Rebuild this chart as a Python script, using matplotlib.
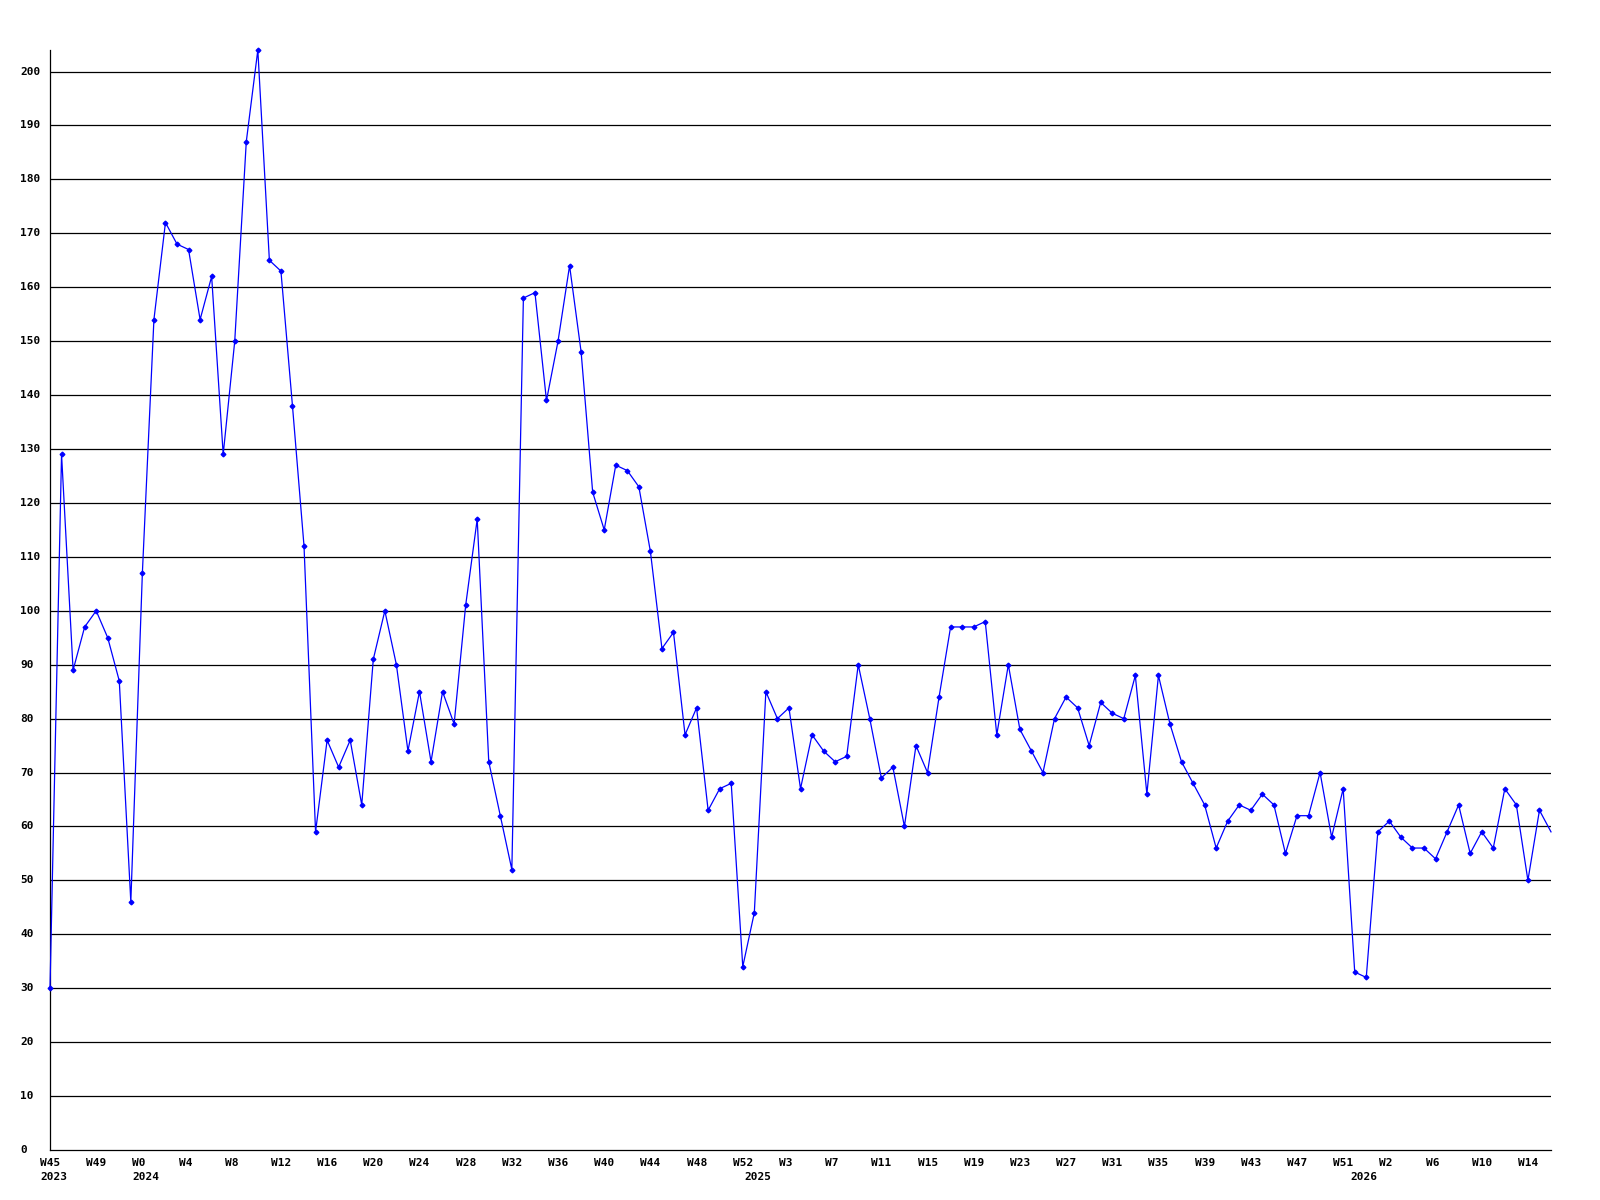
import matplotlib
matplotlib.use("Agg")
import matplotlib.pyplot as plt
import matplotlib.transforms as mtransforms

# weekly values, first point = W45 2023
values = [30, 129, 89, 97, 100, 95, 87, 46, 107, 154,
          172, 168, 167, 154, 162, 129, 150, 187, 204, 165,
          163, 138, 112, 59, 76, 71, 76, 64, 91, 100,
          90, 74, 85, 72, 85, 79, 101, 117, 72, 62,
          52, 158, 159, 139, 150, 164, 148, 122, 115, 127,
          126, 123, 111, 93, 96, 77, 82, 63, 67, 68,
          34, 44, 85, 80, 82, 67, 77, 74, 72, 73,
          90, 80, 69, 71, 60, 75, 70, 84, 97, 97,
          97, 98, 77, 90, 78, 74, 70, 80, 84, 82,
          75, 83, 81, 80, 88, 66, 88, 79, 72, 68,
          64, 56, 61, 64, 63, 66, 64, 55, 62, 62,
          70, 58, 67, 33, 32, 59, 61, 58, 56, 56,
          54, 59, 64, 55, 59, 56, 67, 64, 50, 63,
          59]

week_labels = ["W45", "W49", "W0", "W4", "W8", "W12", "W16", "W20", "W24",
               "W28", "W32", "W36", "W40", "W44", "W48", "W52", "W3", "W7",
               "W11", "W15", "W19", "W23", "W27", "W31", "W35", "W39", "W43",
               "W47", "W51", "W2", "W6", "W10", "W14"]
week_pos = [4 * i for i in range(len(week_labels))]

years = ["2023", "2024", "2025", "2026"]
year_pos = [0, 8, 61, 113.5]

y_ticks = list(range(0, 201, 10))

fig = plt.figure(figsize=(16, 12), dpi=100)
ax = fig.add_axes([50 / 1600, 50 / 1200, 1501 / 1600, 1100 / 1200])

x = list(range(len(values)))
# last point sits on the right edge, drawn without marker
ax.plot(x, values, color="#0000ff", lw=0.9, marker="D", ms=2.4,
        mfc="#0000ff", mec="#0000ff", markevery=list(range(len(values) - 1)),
        clip_on=False, zorder=3)

ax.set_xlim(0, len(values) - 1)
ax.set_ylim(0, 204)

for v in y_ticks[1:]:
    ax.axhline(v, color="black", lw=0.9, zorder=1)

for side in ("top", "right"):
    ax.spines[side].set_visible(False)
for side in ("left", "bottom"):
    ax.spines[side].set_color("black")
    ax.spines[side].set_linewidth(0.9)

ax.set_xticks([])
ax.set_yticks([])

font = dict(family="DejaVu Sans Mono", weight="bold", fontsize=8, color="black")

ylab_tr = mtransforms.blended_transform_factory(fig.transFigure, ax.transData)
for v in y_ticks:
    ax.text(20 / 1600, v, str(v), transform=ylab_tr, ha="left", va="center",
            clip_on=False, **font)

wk_tr = mtransforms.offset_copy(ax.get_xaxis_transform(), fig=fig,
                                x=-10, y=-8, units="dots")
for p, lab in zip(week_pos, week_labels):
    ax.text(p, 0, lab, transform=wk_tr, ha="left", va="top", clip_on=False, **font)

yr_tr = mtransforms.offset_copy(ax.get_xaxis_transform(), fig=fig,
                                x=-10, y=-22, units="dots")
for p, lab in zip(year_pos, years):
    ax.text(p, 0, lab, transform=yr_tr, ha="left", va="top", clip_on=False, **font)

fig.savefig("out.png", dpi=100, facecolor="white")
